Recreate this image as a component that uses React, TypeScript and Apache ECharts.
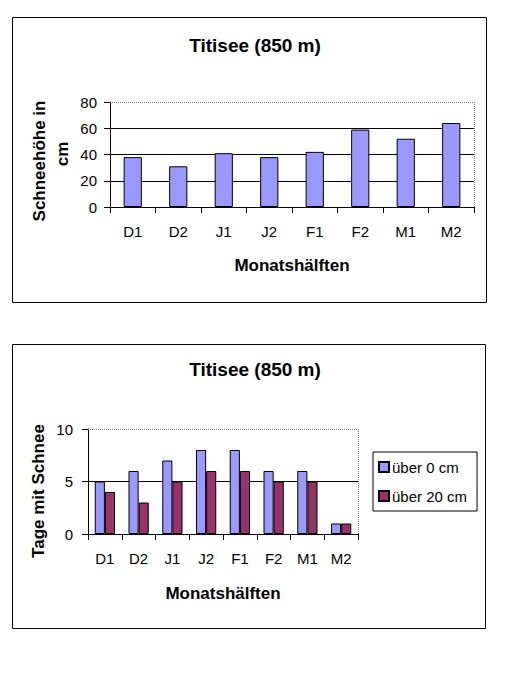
import React, { useEffect, useRef } from "react";
import * as echarts from "echarts";

const categories = ["D1", "D2", "J1", "J2", "F1", "F2", "M1", "M2"];
const snowDepth = [38, 31, 41, 38, 42, 59, 52, 64];
const daysOver0 = [5, 6, 7, 8, 8, 6, 6, 1];
const daysOver20 = [4, 3, 5, 6, 6, 5, 5, 1];
const chartTitle = "Titisee (850 m)";
const xName = "Monatshälften";
const yName1Lines = ["Schneehöhe in", "cm"];
const yName2 = "Tage mit Schnee";
const seriesNames = ["über 0 cm", "über 20 cm"];

const FONT = 'Arial, "Liberation Sans", sans-serif';
const BLUE = "#9999FF";
const RED = "#993366";

export default function App() {
  const ref = useRef<HTMLDivElement>(null);
  useEffect(() => {
    if (!ref.current) return;
    const chart = echarts.init(ref.current, undefined, { renderer: "svg" });
    const axisLabel = { color: "#000", fontFamily: FONT, fontSize: 15 };
    const nameStyle = { color: "#000", fontFamily: FONT, fontSize: 17, fontWeight: "bold" as const };
    const nameFont = `bold 17px ${FONT}`;
    const xAxisBase = {
      type: "category" as const,
      data: categories,
      axisLine: { show: true, lineStyle: { color: "#000", width: 1 } },
      axisTick: { show: true, length: 6, interval: 0, lineStyle: { color: "#000" } },
      axisLabel: { ...axisLabel, margin: 17, interval: 0 },
      splitLine: { show: false },
      name: xName,
      nameLocation: "middle" as const,
      nameGap: 50,
      nameTextStyle: nameStyle,
    };
    const yAxisBase = {
      type: "value" as const,
      min: 0,
      axisLine: { show: true, lineStyle: { color: "#000", width: 1 } },
      axisTick: { show: true, length: 6, lineStyle: { color: "#000" } },
      splitLine: { show: true, showMaxLine: false, lineStyle: { color: "#000", width: 1 } },
    };
    const titleStyle = { color: "#000", fontFamily: FONT, fontSize: 19, fontWeight: "bold" as const };
    const yNameText = (text: string, x: number, y: number) => ({
      type: "text",
      x,
      y,
      rotation: Math.PI / 2,
      silent: true,
      style: { text, font: nameFont, fill: "#000", textAlign: "center", textVerticalAlign: "middle" },
    });
    chart.setOption({
      animation: false,
      backgroundColor: "#fff",
      title: [
        { text: chartTitle, left: 250, top: 31, textAlign: "center", textStyle: titleStyle },
        { text: chartTitle, left: 250, top: 355, textAlign: "center", textStyle: titleStyle },
      ],
      grid: [
        { left: 110, top: 102, width: 364, height: 105, containLabel: false },
        { left: 88, top: 429, width: 270, height: 105, containLabel: false },
      ],
      xAxis: [
        { ...xAxisBase, gridIndex: 0 },
        { ...xAxisBase, gridIndex: 1, nameGap: 51 },
      ],
      yAxis: [
        { ...yAxisBase, gridIndex: 0, max: 80, interval: 20, axisLabel: { ...axisLabel, margin: 13 } },
        { ...yAxisBase, gridIndex: 1, max: 10, interval: 5, axisLabel: { ...axisLabel, margin: 15 } },
      ],
      legend: {
        show: true,
        data: seriesNames,
        orient: "vertical",
        left: 373,
        top: 452,
        padding: [7, 10, 7, 5],
        itemWidth: 10,
        itemHeight: 10,
        itemGap: 13,
        icon: "rect",
        borderColor: "#000",
        borderWidth: 1,
        backgroundColor: "#fff",
        textStyle: { color: "#000", fontFamily: FONT, fontSize: 15, lineHeight: 16, padding: [0, 0, 0, -2] },
      },
      series: [
        {
          type: "bar",
          name: "Schneehöhe",
          xAxisIndex: 0,
          yAxisIndex: 0,
          data: snowDepth,
          barCategoryGap: "60%",
          itemStyle: { color: BLUE, borderColor: "#000", borderWidth: 1 },
        },
        {
          type: "bar",
          name: seriesNames[0],
          xAxisIndex: 1,
          yAxisIndex: 1,
          data: daysOver0,
          barGap: "0%",
          barCategoryGap: "40%",
          itemStyle: { color: BLUE, borderColor: "#000", borderWidth: 1 },
        },
        {
          type: "bar",
          name: seriesNames[1],
          xAxisIndex: 1,
          yAxisIndex: 1,
          data: daysOver20,
          barGap: "0%",
          barCategoryGap: "40%",
          itemStyle: { color: RED, borderColor: "#000", borderWidth: 1 },
        },
      ],
      graphic: [
        {
          type: "rect",
          shape: { x: 12.5, y: 17.5, width: 474, height: 285 },
          style: { fill: "none", stroke: "#000", lineWidth: 1 },
          silent: true,
          z: 0,
        },
        {
          type: "rect",
          shape: { x: 12.5, y: 344.5, width: 473, height: 284 },
          style: { fill: "none", stroke: "#000", lineWidth: 1 },
          silent: true,
          z: 0,
        },
        {
          type: "polyline",
          shape: { points: [[110, 102.5], [474.5, 102.5], [474.5, 207]] },
          style: { fill: "none", stroke: "#808080", lineWidth: 1, lineDash: [1, 1] },
          silent: true,
          z: 1,
        },
        {
          type: "polyline",
          shape: { points: [[88, 429.5], [358.5, 429.5], [358.5, 534]] },
          style: { fill: "none", stroke: "#808080", lineWidth: 1, lineDash: [1, 1] },
          silent: true,
          z: 1,
        },
        yNameText(yName1Lines[0], 39, 161),
        yNameText(yName1Lines[1], 62, 154),
        yNameText(yName2, 38, 491),
      ],
    });
    return () => chart.dispose();
  }, []);
  return (
    <div
      ref={ref}
      style={{ position: "absolute", left: 0, top: 0, width: 510, height: 700 }}
    />
  );
}
